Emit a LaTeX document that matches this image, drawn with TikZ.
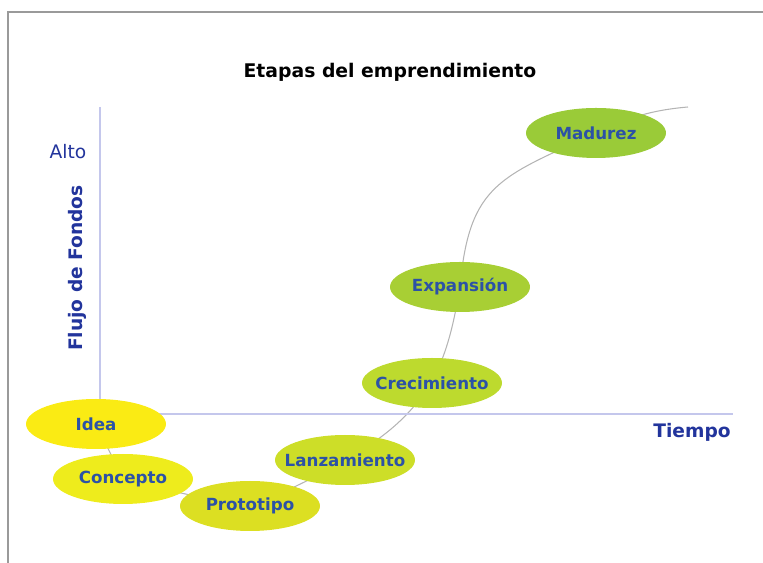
\documentclass[tikz,border=0pt]{standalone}
\usepackage{fontspec}
\setmainfont{DejaVu Sans}
\usetikzlibrary{shapes.geometric,backgrounds}

\definecolor{framegray}{HTML}{9A9A9A}
\definecolor{axisline}{HTML}{C4C7EC}
\definecolor{axisblue}{HTML}{22349C}
\definecolor{stageblue}{HTML}{2C52A6}
\definecolor{curvegray}{HTML}{B4B4B4}
\definecolor{ideafill}{HTML}{FAEB14}
\definecolor{conceptofill}{HTML}{EEEC1C}
\definecolor{prototipofill}{HTML}{DCDF22}
\definecolor{lanzfill}{HTML}{CDDE28}
\definecolor{crecfill}{HTML}{BDDA2E}
\definecolor{expfill}{HTML}{A8CF34}
\definecolor{madfill}{HTML}{9ACB38}

\tikzset{
  stage/.style={ellipse, fill=#1, minimum width=2.8cm, minimum height=1cm,
    inner xsep=-1cm, inner ysep=0pt, text=stageblue,
    font=\fontsize{9.5}{11}\selectfont\bfseries},
  axislabel/.style={text=axisblue, font=\fontsize{10.6}{12}\selectfont\bfseries},
}

\begin{document}
\begin{tikzpicture}[x=0.02cm,y=0.02cm]
  \useasboundingbox (0,0) rectangle (763,563);

  % Frame
  \draw[framegray, line width=1.1pt] (8,0) -- (8,551) -- (763,551);

  % Title
  \node[font=\fontsize{10.7}{13}\selectfont\bfseries] (title) at (390,491) {Etapas del emprendimiento};

  % Axes
  \draw[axisline, line width=1.2pt] (100,456) -- (100,149) -- (733,149);
  \node[axislabel, font=\fontsize{10.6}{12}\selectfont] (alto) at (68,411) {Alto};
  \node[axislabel, rotate=90] (flujo) at (77,295) {Flujo de Fondos};
  \node[axislabel] (tiempo) at (692,131) {Tiempo};

  % Stages
  \node[stage=ideafill] (idea) at (96,139) {Idea};
  \node[stage=conceptofill] (concepto) at (123,84) {Concepto};
  \node[stage=prototipofill] (prototipo) at (250,57) {Prototipo};
  \node[stage=lanzfill] (lanzamiento) at (345,103) {Lanzamiento};
  \node[stage=crecfill] (crecimiento) at (432,180) {Crecimiento};
  \node[stage=expfill] (expansion) at (460,276) {Expansión};
  \node[stage=madfill] (madurez) at (596,430) {Madurez};
  \coordinate (fin) at (688,456);

  % Growth curve
  \begin{pgfonlayer}{background}
    \draw[curvegray, line width=0.6pt]
      (idea.center) to[out=-65,in=115] (concepto.center)
      to[out=-15,in=170] (prototipo.center)
      to[out=22,in=-150] (lanzamiento.center)
      to[out=30,in=-125] (crecimiento.center)
      to[out=65,in=-100] (expansion.center)
      to[out=85,in=-155,looseness=1.3] (madurez.center)
      to[out=25,in=185] (fin);
  \end{pgfonlayer}
\end{tikzpicture}
\end{document}
